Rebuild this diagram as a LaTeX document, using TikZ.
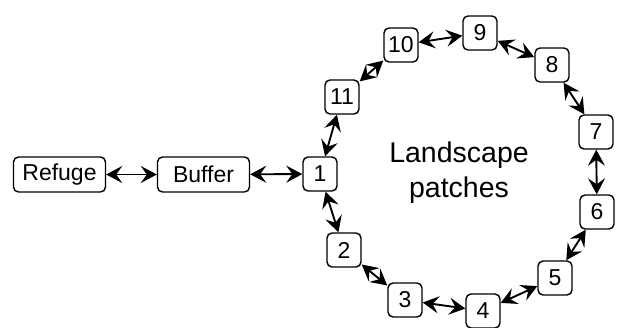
\documentclass[tikz,border=0pt]{standalone}
\usepackage{fontspec}
\setmainfont{Liberation Sans}
\usetikzlibrary{arrows.meta}
\begin{document}
\begin{tikzpicture}[x=1pt,y=-1pt,
  patch/.style={draw,line width=1.4pt,rounded corners=5pt,minimum width=34pt,minimum height=34pt,inner sep=0pt,font=\fontsize{23}{26}\selectfont},
  wide/.style={patch,minimum width=92pt,minimum height=35pt},
  link/.style={line width=1.9pt,{Stealth[length=16pt,width=17pt,inset=6pt]}-{Stealth[length=16pt,width=17pt,inset=6pt]}}]
\useasboundingbox (0,0) rectangle (619,327);
\node[wide] (ref) at (59.5,174.5) {Refuge};
\node[wide] (buf) at (203.5,174.5) {Buffer};
\node[patch] (n1) at (320,174) {1};
\node[patch] (n2) at (344,250) {2};
\node[patch] (n3) at (405,300) {3};
\node[patch] (n4) at (483,311) {4};
\node[patch] (n5) at (555,278) {5};
\node[patch] (n6) at (597,212) {6};
\node[patch] (n7) at (596,132) {7};
\node[patch] (n8) at (552,65) {8};
\node[patch] (n9) at (480,33) {9};
\node[patch] (n10) at (401,45) {10};
\node[patch] (n11) at (342,97) {11};
\node[align=center,font=\fontsize{28.5}{35}\selectfont] (lp) at (459,173) {Landscape\\patches};
\draw[link] (ref) -- (buf);
\draw[link] (buf) -- (n1);
\draw[link] (n1) -- (n2);
\draw[link] (n2) -- (n3);
\draw[link] (n3) -- (n4);
\draw[link] (n4) -- (n5);
\draw[link] (n5) -- (n6);
\draw[link] (n6) -- (n7);
\draw[link] (n7) -- (n8);
\draw[link] (n8) -- (n9);
\draw[link] (n9) -- (n10);
\draw[link] (n10) -- (n11);
\draw[link] (n11) -- (n1);
\end{tikzpicture}
\end{document}
